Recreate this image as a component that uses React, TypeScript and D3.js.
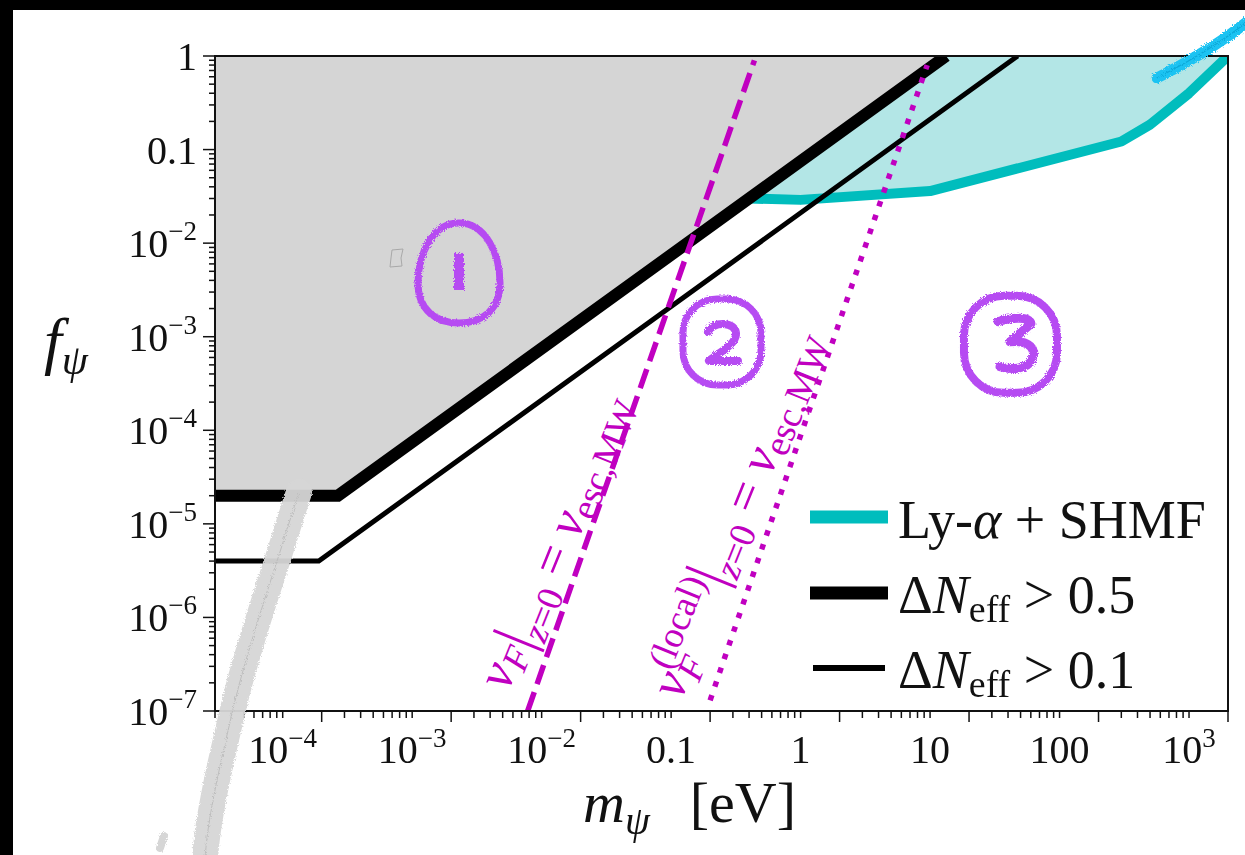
import React from 'react';
import * as d3 from 'd3';

const W = 1245;
const H = 855;
const X_DOMAIN = [3e-5, 2000];
const Y_DOMAIN = [1e-7, 1];

// major tick labels: [base, superscript]
const xTickValues = [1e-4, 1e-3, 1e-2, 0.1, 1, 10, 100, 1000];
const xTickLabels = [["10", "−4"], ["10", "−3"], ["10", "−2"], ["0.1", ""], ["1", ""], ["10", ""], ["100", ""], ["10", "3"]];
const yTickValues = [1, 0.1, 1e-2, 1e-3, 1e-4, 1e-5, 1e-6, 1e-7];
const yTickLabels = [["1", ""], ["0.1", ""], ["10", "−2"], ["10", "−3"], ["10", "−4"], ["10", "−5"], ["10", "−6"], ["10", "−7"]];

// ΔNeff > 0.5 (thick)
const neff05M = [3e-5, 2.67e-4, 13.3];
const neff05F = [2e-5, 2e-5, 1];
// ΔNeff > 0.1 (thin)
const neff01M = [3e-5, 1.9e-4, 47.5];
const neff01F = [4e-6, 4e-6, 1];
// Ly-alpha + SHMF
const lyaM = [0.4, 1, 10, 300, 500, 1000, 2000];
const lyaF = [0.03, 0.029, 0.036, 0.122, 0.185, 0.4, 1];
// v_F|z=0 = v_esc,MW (dashed)
const dashM = [0.0078, 0.44];
const dashF = [1e-7, 0.9];
// v_F^(local)|z=0 = v_esc,MW (dotted)
const dotM = [0.2, 9.5];
const dotF = [1.3e-7, 0.8];

// hand-drawn region markers (data coords of centres)
const regionLabels = ['1', '2', '3'];
const regionM = [2.3e-3, 0.247, 41.4];
const regionF = [4.8e-3, 8.8e-4, 8.4e-4];

// scanned pencil smears (pixel overlay)
const graySmear = [[299, 492], [290, 520], [279, 555], [266, 595], [252, 640], [239, 685], [227, 735], [216, 785], [208, 830], [205, 858]];
const cyanSmear = [[1157, 78], [1172, 70], [1190, 60], [1210, 48], [1228, 36], [1247, 22]];

const MAG = '#c000c0';
const CYAN = '#00bdbd';
const PURPLE = '#b64cf2';
const FONT = '"Liberation Serif", "DejaVu Serif", serif';

const zip = (a: number[], b: number[]) => a.map((v, i) => [v, b[i]] as [number, number]);

export default function App() {
  const L = 215, R = 1228, T = 56, B = 711;
  const x = d3.scaleLog().domain(X_DOMAIN).range([L, R]);
  const y = d3.scaleLog().domain(Y_DOMAIN).range([B, T]);
  const line = d3.line<[number, number]>().x(d => x(d[0])).y(d => y(d[1]));
  const pline = d3.line<number[]>().x(d => d[0]).y(d => d[1]).curve(d3.curveCatmullRom);

  const neff05 = zip(neff05M, neff05F);
  const neff01 = zip(neff01M, neff01F);
  const lya = zip(lyaM, lyaF);
  const grayPoly: [number, number][] = [[X_DOMAIN[0], Y_DOMAIN[1]], ...neff05];
  const cyanPoly: [number, number][] = [...lya, [lyaM[0], Y_DOMAIN[1]]];

  const xMinor = x.ticks();
  const yMinor = y.ticks();
  const mant = (v: number) => Math.round(v / Math.pow(10, Math.floor(Math.log10(v) + 1e-9)));

  const subSize = 37;
  const mainSize = 52;

  return (
    <div style={{ position: 'absolute', left: 0, top: 0 }}>
      <svg width={W} height={H} style={{ display: 'block', background: '#fff' }} fontFamily={FONT}>
        <defs>
          <clipPath id="plot"><rect x={L} y={T} width={R - L} height={B - T} /></clipPath>
          <filter id="rough" x="-20%" y="-20%" width="140%" height="140%">
            <feTurbulence type="fractalNoise" baseFrequency="0.9" numOctaves="2" seed="3" />
            <feDisplacementMap in="SourceGraphic" scale="4" />
          </filter>
        </defs>
        <rect x={0} y={0} width={W} height={H} fill="#fff" />

        <g clipPath="url(#plot)">
          <path d={line(cyanPoly) + 'Z'} fill="#b3e6e6" />
          <path d={line(lya) || ''} fill="none" stroke={CYAN} strokeWidth={10} strokeLinejoin="round" />
          <path d={line(grayPoly) + 'Z'} fill="#d5d5d5" />
          <path d={line(neff05) || ''} fill="none" stroke="#000" strokeWidth={12} />
          <path d={line(neff01) || ''} fill="none" stroke="#000" strokeWidth={5} />
          <path d={line(zip(dashM, dashF)) || ''} fill="none" stroke={MAG} strokeWidth={5.5} strokeDasharray="20,8.5" />
          <path d={line(zip(dotM, dotF)) || ''} fill="none" stroke={MAG} strokeWidth={5.5} strokeDasharray="5.5,9" />
        </g>

        {/* rotated labels */}
        <text transform="translate(508,692) rotate(-68)" fill={MAG} fontSize={mainSize}>
          <tspan fontStyle="italic">v</tspan>
          <tspan fontStyle="italic" fontSize={subSize} dy={8}>F</tspan>
          <tspan fontSize={60} dy={-3}>|</tspan>
          <tspan fontStyle="italic" fontSize={subSize} dy={11}>z</tspan>
          <tspan fontSize={subSize}>=0</tspan>
          <tspan dy={-8}>{' = '}</tspan>
          <tspan fontStyle="italic">v</tspan>
          <tspan fontSize={subSize} dy={7}>esc,MW</tspan>
        </text>
        <text transform="translate(681,701) rotate(-68)" fill={MAG} fontSize={mainSize}>
          <tspan fontStyle="italic">v</tspan>
          <tspan fontStyle="italic" fontSize={subSize} dy={10}>F</tspan>
          <tspan fontSize={subSize} dx={-22} dy={-31}>(local)</tspan>
          <tspan fontSize={60} dy={17}>|</tspan>
          <tspan fontStyle="italic" fontSize={subSize} dy={11}>z</tspan>
          <tspan fontSize={subSize}>=0</tspan>
          <tspan dy={-8}>{' = '}</tspan>
          <tspan fontStyle="italic">v</tspan>
          <tspan fontSize={subSize} dy={7}>esc,MW</tspan>
        </text>

        {/* hand-drawn region markers */}
        <g filter="url(#rough)" stroke={PURPLE} fill="none" strokeLinecap="round" strokeLinejoin="round">
          {regionLabels.map((lab, i) => {
            const cx = x(regionM[i]);
            const cy = y(regionF[i]);
            return (
              <g key={lab} transform={`translate(${cx},${cy})`}>
                {lab === '1' && (
                  <>
                    <path d="M 0 -50 C 27 -50 41 -18 41 10 C 41 37 23 50 0 50 C -23 50 -41 37 -41 10 C -41 -18 -27 -50 0 -50 Z" strokeWidth={7} />
                    <rect x={-5} y={-20} width={10} height={37} fill={PURPLE} stroke="none" />
                  </>
                )}
                {lab === '2' && (
                  <>
                    <rect x={-39} y={-43} width={78} height={86} rx={34} strokeWidth={7} />
                    <path d="M -14 -10 C -10 -21 15 -21 14 -7 C 13 3 -2 10 -13 19 L 16 19" strokeWidth={8} />
                  </>
                )}
                {lab === '3' && (
                  <>
                    <rect x={-46} y={-48} width={93} height={97} rx={40} strokeWidth={8} />
                    <path d="M -12 -22 C 3 -27 20 -27 21 -20 L 0 -2 C 20 -4 27 6 22 16 C 17 26 0 26 -10 23" strokeWidth={9} />
                  </>
                )}
              </g>
            );
          })}
        </g>
        <path d="M 392 250 L 403 249 L 401 258 L 402 266 L 390 267 L 391 258 Z" fill="none" stroke="#a8a8a8" strokeWidth={1} />

        {/* frame */}
        <rect x={L} y={T} width={R - L} height={B - T} fill="none" stroke="#111" strokeWidth={2} />

        {/* x ticks */}
        {xMinor.map((v, i) => {
          const m = mant(v);
          const len = m === 2 ? 11 : 7;
          return <line key={'xm' + i} x1={x(v)} x2={x(v)} y1={B} y2={B + len} stroke="#111" strokeWidth={1.5} />;
        })}
        {xTickValues.map((v, i) => (
          <text key={'xl' + i} x={x(v)} y={B + 52} fontSize={40} textAnchor="middle" fill="#111">
            <tspan>{xTickLabels[i][0]}</tspan>
            {xTickLabels[i][1] && <tspan fontSize={27} dy={-16}>{xTickLabels[i][1]}</tspan>}
          </text>
        ))}

        {/* y ticks */}
        {yMinor.map((v, i) => {
          const m = mant(v);
          const len = m === 1 ? 12 : 6;
          return <line key={'ym' + i} x1={L} x2={L - len} y1={y(v)} y2={y(v)} stroke="#111" strokeWidth={1.5} />;
        })}
        {yTickValues.map((v, i) => (
          <text key={'yl' + i} x={197} y={y(v) + 14} fontSize={40} textAnchor="end" fill="#111">
            <tspan>{yTickLabels[i][0]}</tspan>
            {yTickLabels[i][1] && <tspan fontSize={27} dy={-17}>{yTickLabels[i][1]}</tspan>}
          </text>
        ))}

        {/* axis labels */}
        <text x={583} y={822} fontSize={58} fill="#111">
          <tspan fontStyle="italic">m</tspan>
          <tspan fontStyle="italic" fontSize={40} dy={12}>ψ</tspan>
          <tspan dx={40} dy={-12}>[eV]</tspan>
        </text>
        <text x={44} y={362} fontSize={64} fill="#111">
          <tspan fontStyle="italic">f</tspan>
          <tspan fontStyle="italic" fontSize={42} dy={12}>ψ</tspan>
        </text>

        {/* legend */}
        <line x1={810} x2={888} y1={517} y2={517} stroke={CYAN} strokeWidth={13} />
        <text x={898} y={538} fontSize={54} fill="#111">
          <tspan>Ly-</tspan><tspan fontStyle="italic">α</tspan><tspan>{' + SHMF'}</tspan>
        </text>
        <line x1={810} x2={888} y1={593} y2={593} stroke="#000" strokeWidth={13} />
        <text x={898} y={613} fontSize={54} fill="#111">
          <tspan>Δ</tspan><tspan fontStyle="italic">N</tspan>
          <tspan fontSize={38} dy={9}>eff</tspan>
          <tspan dy={-9}>{' > 0.5'}</tspan>
        </text>
        <line x1={813} x2={885} y1={668} y2={668} stroke="#000" strokeWidth={6} />
        <text x={898} y={688} fontSize={54} fill="#111">
          <tspan>Δ</tspan><tspan fontStyle="italic">N</tspan>
          <tspan fontSize={38} dy={9}>eff</tspan>
          <tspan dy={-9}>{' > 0.1'}</tspan>
        </text>

        {/* pencil smears from the scan */}
        <g filter="url(#rough)">
          <path d={pline(graySmear) || ''} fill="none" stroke="#d6d6d6" strokeWidth={26} strokeLinecap="round" opacity={0.95} />
          <path d={pline(graySmear) || ''} fill="none" stroke="#bdbdbd" strokeWidth={1} />
          <path d="M 160 848 L 164 836" stroke="#d6d6d6" strokeWidth={8} strokeLinecap="round" />
          <path d={pline(cyanSmear) || ''} fill="none" stroke="#1cc3f2" strokeWidth={11} strokeLinecap="round" />
          <path d={pline(cyanSmear) || ''} fill="none" stroke="#0aa8d8" strokeWidth={1.2} />
        </g>

        {/* black scan border */}
        <rect x={0} y={0} width={W} height={10} fill="#000" />
        <rect x={0} y={0} width={13} height={H} fill="#000" />
      </svg>
    </div>
  );
}
